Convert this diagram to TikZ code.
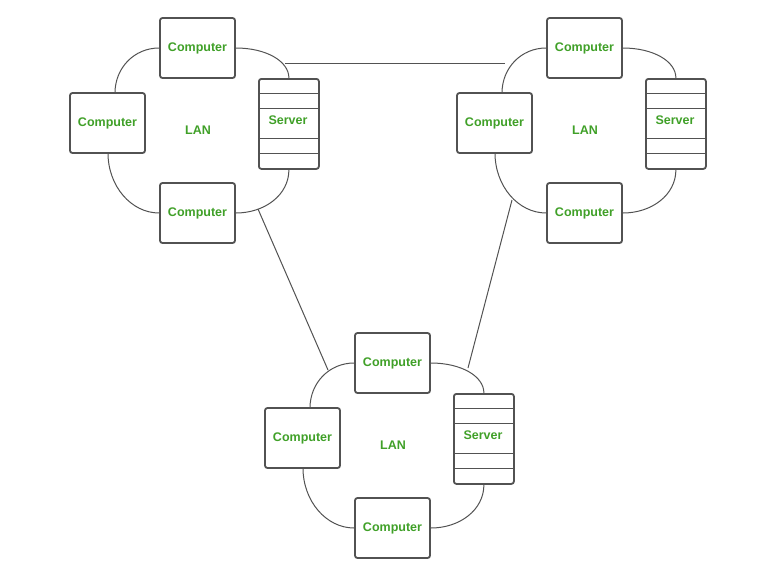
\documentclass[tikz,border=0pt]{standalone}
\usepackage{fontspec}
\setmainfont{Liberation Sans}
\begin{document}
\begin{tikzpicture}[x=1pt,y=-1pt,
  box/.style={draw=black!68,line width=1.8pt,rounded corners=2.5pt,minimum width=75pt,minimum height=60pt,inner sep=0pt,
    font=\fontsize{12.5}{14}\selectfont\bfseries,text=lgreen},
  srv/.style={box,minimum width=60pt,minimum height=90pt},
  lbl/.style={font=\fontsize{12.5}{14}\selectfont\bfseries,text=lgreen},
  ring/.style={draw=black!68,line width=1pt},
  link/.style={draw=black!68,line width=1pt}]
\definecolor{lgreen}{RGB}{64,160,40}
\useasboundingbox (0,0) rectangle (763,584);
\newcommand\mylan[3]{%
\begin{scope}[shift={(#2,#3)}]
  \node[box] (#1t) at (197.5,48) {Computer};
  \node[box] (#1l) at (107.5,123) {Computer};
  \node[box] (#1b) at (197.5,213) {Computer};
  \node[srv,anchor=north west] (#1s) at (258,78) {};
  \node[lbl] (#1st) at (288,120) {Server};
  \node[lbl] (#1n) at (198,130) {LAN};
  \draw[black!68,line width=1pt] (#1s.north west)++(0,15) -- ++(60,0);
  \draw[black!68,line width=1pt] (#1s.north west)++(0,30) -- ++(60,0);
  \draw[black!68,line width=1pt] (#1s.north west)++(0,60) -- ++(62,0);
  \draw[black!68,line width=1pt] (#1s.north west)++(0,75) -- ++(62,0);
  \coordinate (#1p) at (115,93);
  \coordinate (#1q) at (108,153);
  \draw[ring] (#1t.west) .. controls ++(-25,0) and ++(0,-25) .. (#1p);
  \draw[ring] (#1q) .. controls ++(0,33) and ++(-28,0) .. (#1b.west);
  \draw[ring] (#1t.east) .. controls ++(30,0) and ++(0,-17) .. (#1s.north);
  \draw[ring] (#1s.south) .. controls ++(0,25) and ++(29,0) .. (#1b.east);
  \coordinate (#1a) at (285,63);
  \coordinate (#1c) at (258,209);
\end{scope}}
\mylan{A}{0}{0}
\mylan{B}{387}{0}
\mylan{C}{195}{315}
\draw[link] (Aa) -- (505,63) coordinate (Bx);
\draw[link] (Ac) -- (328,370) coordinate (Cx);
\draw[link] (512,200) coordinate (By) -- (468,368) coordinate (Cy);
\end{tikzpicture}
\end{document}
